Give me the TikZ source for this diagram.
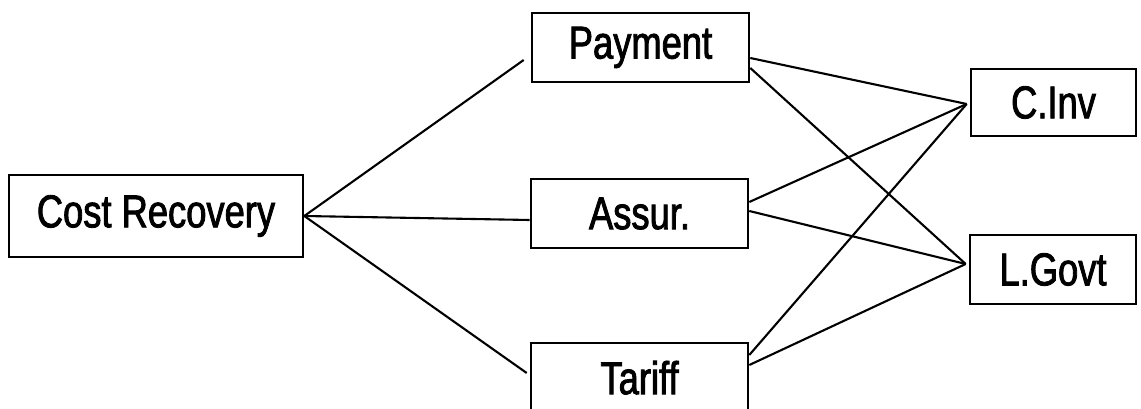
\documentclass[tikz,border=0pt]{standalone}
\usepackage{fontspec}
\setmainfont{Liberation Sans}[FakeStretch=0.79,FakeBold=1.8]
\begin{document}
\begin{tikzpicture}[x=1pt,y=-1pt,
  box/.style={draw, line width=2.6pt, rectangle, inner sep=0pt,
              font=\fontsize{46}{54}\selectfont},
  link/.style={line width=2.1pt}]
\useasboundingbox (0,0) rectangle (1141,409);
\clip (0,0) rectangle (1141,409);

% boxes
\node[box, minimum width=294pt, minimum height=82pt] (cr)  at (156,216)    {Cost Recovery};
\node[box, minimum width=217pt, minimum height=69pt] (pay) at (640.5,47.5) {Payment};
\node[box, minimum width=217pt, minimum height=69pt] (ass) at (639.5,213.5){Assur.};
\node[box, minimum width=217pt, minimum height=69pt, text depth=0pt] (tar) at (639.5,377.5){Tariff};
\node[box, minimum width=165pt, minimum height=67pt] (cinv) at (1053.5,102.5){C.Inv};
\node[box, minimum width=166pt, minimum height=69pt] (lgov) at (1053,269.5){L.Govt};

% meeting points of the fan lines
\coordinate (cinvIn) at ([xshift=-3pt,yshift=-1.5pt]cinv.west);
\coordinate (lgovIn) at ([xshift=-3pt,yshift=5.5pt]lgov.west);

% cost recovery fan
\draw[link] (cr.east) -- ([xshift=-7pt,yshift=-12.5pt]pay.west);
\draw[link] (cr.east) -- ([yshift=-6.5pt]ass.west);
\draw[link] (cr.east) -- ([xshift=-3pt,yshift=4.5pt]tar.west);

% links to C.Inv and L.Govt
\draw[link] ([yshift=-10.5pt]pay.east) -- (cinvIn);
\draw[link] ([yshift=-20.5pt]pay.east) -- (lgovIn);
\draw[link] ([yshift=11.5pt]ass.east) -- (cinvIn);
\draw[link] ([yshift=2.5pt]ass.east) -- (lgovIn);
\draw[link] ([yshift=22.5pt]tar.east) -- (cinvIn);
\draw[link] ([yshift=12.5pt]tar.east) -- (lgovIn);
\end{tikzpicture}
\end{document}
